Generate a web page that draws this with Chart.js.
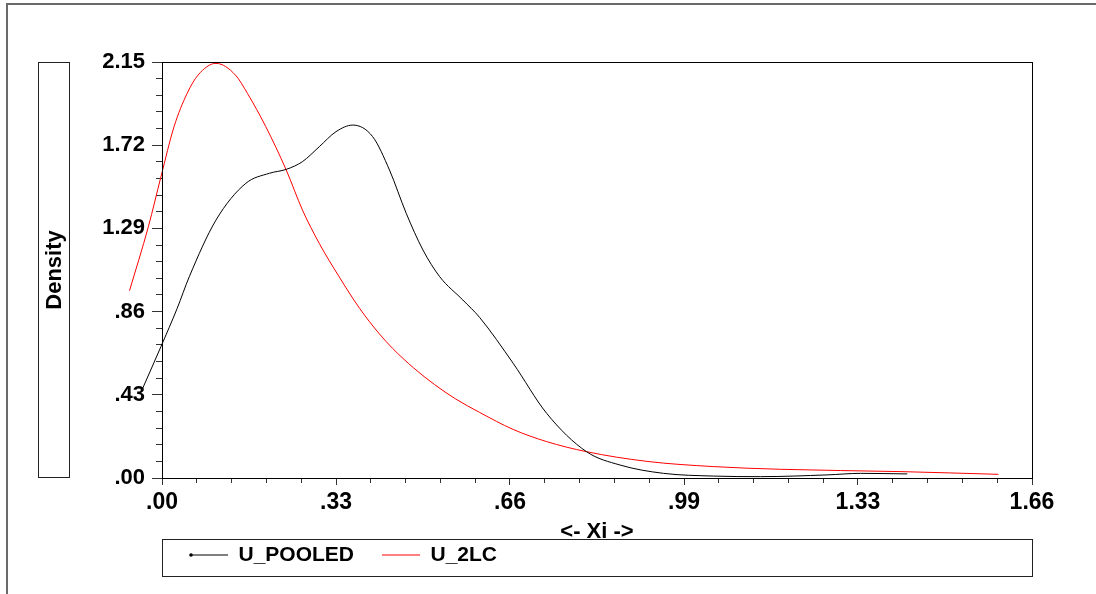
<!DOCTYPE html>
<html>
<head>
<meta charset="utf-8">
<script src="https://cdn.jsdelivr.net/npm/chart.js@4/dist/chart.umd.min.js"></script>
<style>
  html, body { margin: 0; padding: 0; background: #fff; }
</style>
</head>
<body>
<canvas id="densityChart" width="1096" height="594"></canvas>
<script>
// values
const xiPooled = [-0.041, -0.002, 0.029, 0.052, 0.103, 0.160, 0.205, 0.237, 0.268, 0.300, 0.332, 0.364, 0.402, 0.434, 0.466, 0.498, 0.530, 0.574, 0.606, 0.670, 0.734, 0.810, 0.874, 0.957, 1.052, 1.142, 1.269, 1.333, 1.422];
const densityPooled = [0.438, 0.679, 0.877, 1.040, 1.333, 1.523, 1.575, 1.595, 1.635, 1.712, 1.790, 1.824, 1.764, 1.592, 1.368, 1.178, 1.040, 0.920, 0.830, 0.593, 0.334, 0.136, 0.067, 0.024, 0.010, 0.007, 0.016, 0.024, 0.021];

const xi2LC = [-0.062, -0.026, -0.002, 0.023, 0.048, 0.069, 0.103, 0.140, 0.163, 0.198, 0.237, 0.268, 0.300, 0.338, 0.377, 0.415, 0.440, 0.480, 0.520, 0.560, 0.606, 0.670, 0.734, 0.810, 0.925, 1.052, 1.180, 1.410, 1.596];
const density2LC = [0.968, 1.299, 1.557, 1.816, 1.988, 2.083, 2.143, 2.083, 1.988, 1.816, 1.592, 1.385, 1.213, 1.040, 0.877, 0.744, 0.670, 0.569, 0.483, 0.409, 0.339, 0.251, 0.188, 0.136, 0.086, 0.059, 0.045, 0.033, 0.019];

const xTickLabels = ['.00', '.33', '.66', '.99', '1.33', '1.66'];
const yTickLabels = ['.00', '.43', '.86', '1.29', '1.72', '2.15'];
const xMax = 1.66;
const yMax = 2.15;
const minorSteps = 5;

const toPoints = (xs, ys) => xs.map((x, i) => ({ x: x, y: ys[i] }));
const makeTicks = (max) => {
  const n = (xTickLabels.length - 1) * minorSteps;
  return Array.from({ length: n + 1 }, (_, i) => ({ value: i * max / n }));
};

const boldFont = (size) => ({ family: 'Liberation Sans', weight: 'bold', size: size });

// boxes around the plot, the axis title and the legend
const frames = {
  id: 'frames',
  afterDraw(chart) {
    const { ctx, chartArea: a } = chart;
    ctx.save();
    ctx.strokeStyle = '#6a6a6a';
    ctx.lineWidth = 2;
    ctx.beginPath();
    ctx.moveTo(7, 594);
    ctx.lineTo(7, 4);
    ctx.lineTo(1096, 4);
    ctx.stroke();

    ctx.strokeStyle = '#000';
    ctx.lineWidth = 1;
    ctx.strokeRect(a.left + 0.5, a.top + 0.5, a.right - a.left, a.bottom - a.top);
    ctx.strokeStyle = '#222';
    ctx.strokeRect(38.5, a.top + 0.5, 31, a.bottom - a.top - 1);
    ctx.strokeRect(a.left + 0.5, 539.5, a.right - a.left, 37);

    // small marker at the start of the first legend line
    const hit = chart.legend.legendHitBoxes[0];
    if (hit) {
      ctx.fillStyle = '#000';
      ctx.beginPath();
      ctx.arc(hit.left + 1, hit.top + hit.height / 2, 1.8, 0, Math.PI * 2);
      ctx.fill();
    }
    ctx.restore();
  }
};

new Chart(document.getElementById('densityChart'), {
  type: 'line',
  data: {
    datasets: [
      {
        label: 'U_POOLED',
        data: toPoints(xiPooled, densityPooled),
        borderColor: '#000',
        borderWidth: 1,
        pointRadius: 0,
        cubicInterpolationMode: 'monotone',
        clip: false
      },
      {
        label: 'U_2LC',
        data: toPoints(xi2LC, density2LC),
        borderColor: '#ff0000',
        borderWidth: 1,
        pointRadius: 0,
        cubicInterpolationMode: 'monotone',
        clip: false
      }
    ]
  },
  options: {
    responsive: false,
    animation: false,
    devicePixelRatio: 1,
    layout: { padding: { left: 38, top: 62, right: 64, bottom: 18.5 } },
    plugins: {
      tooltip: { enabled: false },
      legend: {
        position: 'bottom',
        align: 'start',
        fullSize: false,
        labels: {
          usePointStyle: true,
          pointStyle: 'line',
          pointStyleWidth: 38,
          padding: 28,
          color: '#000',
          font: boldFont(21)
        }
      }
    },
    scales: {
      x: {
        type: 'linear',
        bounds: 'data',
        // bounds set here (not min/max) so the curves left of 0 are still drawn
        afterDataLimits: (scale) => { scale.min = 0; scale.max = xMax; },
        afterBuildTicks: (scale) => {
          scale.min = 0;
          scale.max = xMax;
          scale.ticks = makeTicks(xMax);
        },
        afterFit: (scale) => { scale.height = 38.5; },
        border: { color: '#000', width: 1 },
        grid: {
          drawOnChartArea: false,
          tickLength: 7,
          tickColor: '#333',
          tickBorderDash: (c) => (c.index % minorSteps ? [4, 20] : []),
          tickBorderDashOffset: 0
        },
        ticks: {
          autoSkip: false,
          maxRotation: 0,
          minRotation: 0,
          padding: 4,
          color: '#000',
          font: boldFont(23),
          callback: (v, i) => (i % minorSteps === 0 ? xTickLabels[i / minorSteps] : '')
        },
        title: {
          display: true,
          text: '<- Xi ->',
          color: '#000',
          font: boldFont(22),
          padding: { top: 0, bottom: -29 }
        }
      },
      y: {
        type: 'linear',
        min: 0,
        max: yMax,
        afterBuildTicks: (scale) => { scale.ticks = makeTicks(yMax); },
        afterFit: (scale) => { scale.width = 124; },
        border: { color: '#000', width: 1 },
        grid: {
          drawOnChartArea: false,
          tickLength: 10,
          tickColor: '#333',
          tickBorderDash: (c) => (c.index % minorSteps ? [6, 4] : []),
          tickBorderDashOffset: (c) => (c.index % minorSteps ? 6 : 0)
        },
        ticks: {
          autoSkip: false,
          padding: 7,
          color: '#000',
          font: boldFont(22),
          callback: (v, i) => (i % minorSteps === 0 ? yTickLabels[i / minorSteps] : '')
        },
        title: {
          display: true,
          text: 'Density',
          color: '#000',
          font: boldFont(22),
          padding: { top: 4, bottom: 0 }
        }
      }
    }
  },
  plugins: [frames]
});
</script>
</body>
</html>
